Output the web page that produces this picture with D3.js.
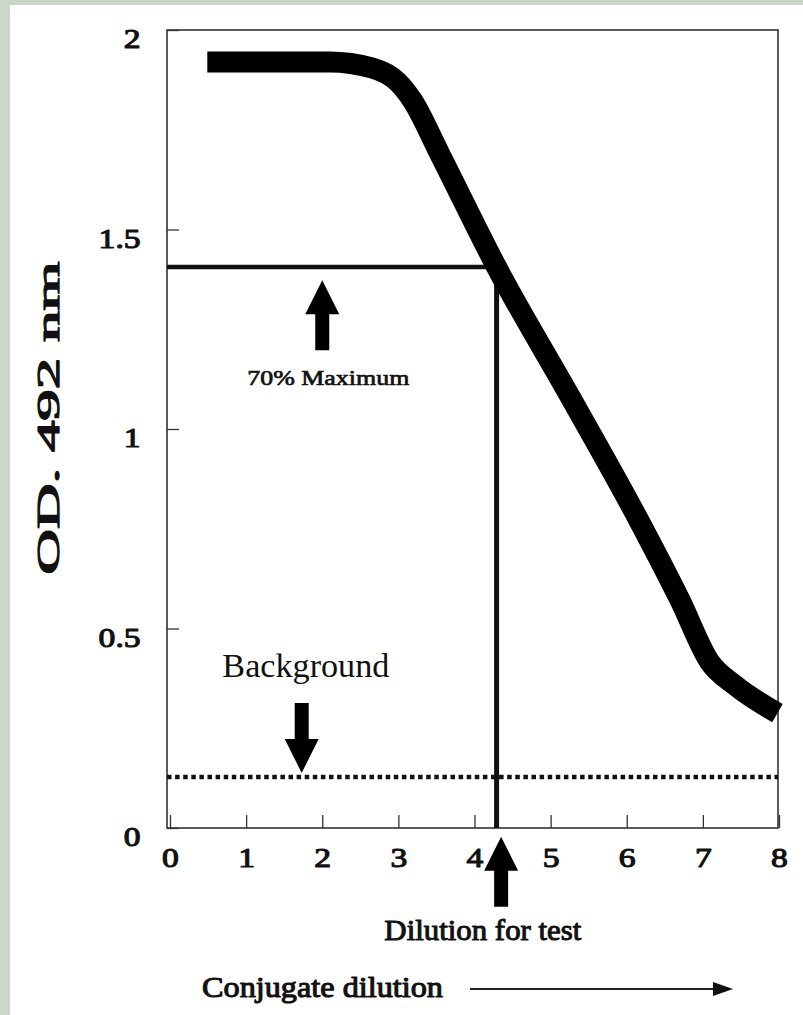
<!DOCTYPE html>
<html><head><meta charset="utf-8">
<script src="https://cdn.jsdelivr.net/npm/d3@7"></script>
<style>
html,body{margin:0;padding:0;background:#c9d8c9;}
svg{display:block;}
</style>
</head><body>
<svg id="chart" width="803" height="1015"></svg>
<script>
// ---- data ----
const curveX = [0.49, 2.10, 2.65, 2.99, 3.18, 3.55, 4.29, 5.28, 6.17, 6.70, 7.09, 7.42, 7.98];
const curveY = [1.92, 1.92, 1.905, 1.87, 1.825, 1.687, 1.406, 1.073, 0.767, 0.571, 0.416, 0.358, 0.288];
const xTicks = [0, 1, 2, 3, 4, 5, 6, 7, 8];
const xTickLabels = ["0", "1", "2", "3", "4", "5", "6", "7", "8"];
const yTicks = [0, 0.5, 1, 1.5, 2];
const yTickLabels = ["0", "0.5", "1", "1.5", "2"];
const maxLevel = 1.406;        // 70% maximum
const testDilution = 4.29;     // dilution for test
const backgroundLevel = 0.128; // background
const arrowX = [2.0, 1.73, 4.35];
const arrowTipY = [1.373, 0.138, -0.022];
const arrowDir = ["up", "down", "up"];
const noteText = ["70% Maximum", "Background", "Dilution for test"];
const noteX = [2.08, 1.785, 4.11];
const noteY = [1.11, 0.378, -0.28];
const xTitle = "Conjugate dilution";
const yTitle = "OD.  492 nm";

// ---- layout ----
const svg = d3.select("#chart");
const W = 803, H = 1015;
svg.append("rect").attr("x", 10).attr("y", 5).attr("width", W - 10).attr("height", H - 5).attr("fill", "#ffffff");

const frame = {left: 167, right: 778, top: 30, bottom: 828};
const x = d3.scaleLinear().domain([0, 8]).range([170, 779]);
const y = d3.scaleLinear().domain([0, 2]).range([828, 30]);
const serif = "Liberation Serif";
// faux-bold serif (regular face thickened by a stroke)
function boldSerif(sel, size, sw) {
  sel.attr("font-family", serif).attr("font-weight", "normal").attr("font-size", size)
     .attr("fill", "#111").attr("stroke", "#111").attr("stroke-width", sw)
     .attr("stroke-linejoin", "round");
}

// frame
svg.append("rect")
  .attr("x", frame.left).attr("y", frame.top)
  .attr("width", frame.right - frame.left).attr("height", frame.bottom - frame.top)
  .attr("fill", "none").attr("stroke", "#333").attr("stroke-width", 1.6);

// x axis
const gx = svg.append("g").attr("transform", `translate(0,${frame.bottom})`)
  .call(d3.axisBottom(x).tickValues(xTicks).tickSize(-13).tickPadding(19)
    .tickFormat((d, i) => xTickLabels[i]));
gx.select(".domain").remove();
gx.selectAll(".tick line").attr("stroke", "#333").attr("stroke-width", 1.3);
gx.selectAll(".tick text").call(boldSerif, 28, 1.1).attr("transform", "scale(1.2,1)");

// y axis
const gy = svg.append("g").attr("transform", `translate(${frame.left},0)`)
  .call(d3.axisLeft(y).tickValues(yTicks).tickSize(-12).tickPadding(22)
    .tickFormat((d, i) => yTickLabels[i]));
gy.select(".domain").remove();
gy.selectAll(".tick line").attr("stroke", "#333").attr("stroke-width", 1.3);
gy.selectAll(".tick text").call(boldSerif, 28, 1.1)
  .attr("dy", "0.64em").attr("transform", "scale(1.2,1)");

// background dotted line
svg.append("line")
  .attr("x1", frame.left).attr("x2", frame.right)
  .attr("y1", y(backgroundLevel)).attr("y2", y(backgroundLevel))
  .attr("stroke", "#111").attr("stroke-width", 4.5).attr("stroke-dasharray", "4.5,3.6");

// 70% maximum horizontal line
svg.append("line")
  .attr("x1", frame.left).attr("x2", x(testDilution))
  .attr("y1", y(maxLevel)).attr("y2", y(maxLevel))
  .attr("stroke", "#111").attr("stroke-width", 4.5);

// vertical line to axis
svg.append("line")
  .attr("x1", x(testDilution)).attr("x2", x(testDilution))
  .attr("y1", y(maxLevel)).attr("y2", frame.bottom)
  .attr("stroke", "#111").attr("stroke-width", 5);

// main curve
const pts = curveX.map((v, i) => [v, curveY[i]]);
svg.append("path")
  .datum(pts)
  .attr("d", d3.line().x(d => x(d[0])).y(d => y(d[1])).curve(d3.curveMonotoneX))
  .attr("fill", "none").attr("stroke", "#000").attr("stroke-width", 21)
  .attr("stroke-linecap", "butt").attr("stroke-linejoin", "round");

// block arrows
const headLen = 34, headHalf = 17, shaftHalf = 7, totalLen = 70;
arrowX.forEach((ax, i) => {
  const cx = x(ax), tip = y(arrowTipY[i]);
  const s = arrowDir[i] === "up" ? 1 : -1;
  const p = [
    [cx, tip],
    [cx + headHalf, tip + s * headLen],
    [cx + shaftHalf, tip + s * headLen],
    [cx + shaftHalf, tip + s * totalLen],
    [cx - shaftHalf, tip + s * totalLen],
    [cx - shaftHalf, tip + s * headLen],
    [cx - headHalf, tip + s * headLen]
  ];
  svg.append("polygon").attr("points", p.map(q => q.join(",")).join(" ")).attr("fill", "#000");
});

// annotation labels
const noteStyle = [
  {size: 22, bold: true, sw: 0.7, len: 162},
  {size: 34, bold: false, sw: 0, len: 167},
  {size: 29, bold: true, sw: 1.0, len: 197}
];
noteText.forEach((t, i) => {
  const tx = svg.append("text")
    .attr("x", x(noteX[i])).attr("y", y(noteY[i]))
    .attr("text-anchor", "middle")
    .attr("textLength", noteStyle[i].len).attr("lengthAdjust", "spacingAndGlyphs")
    .text(t);
  if (noteStyle[i].bold) tx.call(boldSerif, noteStyle[i].size, noteStyle[i].sw);
  else tx.attr("font-family", serif).attr("font-size", noteStyle[i].size).attr("fill", "#111");
});

// x title with arrow
svg.append("text")
  .attr("x", 202).attr("y", 997)
  .attr("textLength", 241).attr("lengthAdjust", "spacingAndGlyphs")
  .call(boldSerif, 30, 1.1).text(xTitle);
svg.append("line").attr("x1", 470).attr("x2", 716).attr("y1", 989).attr("y2", 989)
  .attr("stroke", "#222").attr("stroke-width", 2);
svg.append("polygon").attr("points", "733,989 713,982 713,996").attr("fill", "#111");

// y title
svg.append("text")
  .attr("transform", "translate(59,418) rotate(-90)")
  .attr("text-anchor", "middle")
  .attr("textLength", 313).attr("lengthAdjust", "spacingAndGlyphs")
  .call(boldSerif, 31, 1.2).text(yTitle);
</script>
</body></html>
